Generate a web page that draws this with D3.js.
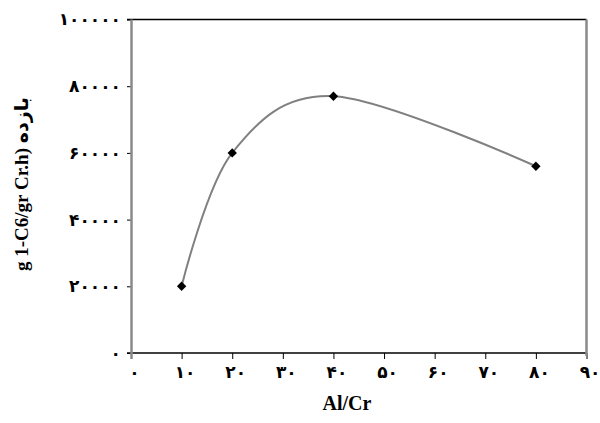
<!DOCTYPE html>
<html>
<head>
<meta charset="utf-8">
<script src="https://cdn.jsdelivr.net/npm/d3@7"></script>
<style>
  html, body { margin: 0; padding: 0; background: #fff; }
  svg { display: block; }
  .tick text { font-family: "DejaVu Sans", serif; font-weight: bold; font-size: 17px; fill: #000; }
</style>
</head>
<body>
<svg id="chart" width="600" height="423"></svg>
<script>
// Données
const alCr   = [10, 20, 40, 80]
const yields = [20000, 60000, 77000, 56000]

// Graduations (chiffres persans)
const xTicks = [0, 10, 20, 30, 40, 50, 60, 70, 80, 90]
const yTicks = [0, 20000, 40000, 60000, 80000, 100000]
const faDigits = '۰۱۲۳۴۵۶۷۸۹'
const toFa = n => String(n).replace(/\d/g, d => faDigits[d])

const svg = d3.select('#chart')
const pLeft = 131, pRight = 586.5, pTop = 19.5, pBottom = 353

const x = d3.scaleLinear().domain([0, 90]).range([pLeft, pRight])
const y = d3.scaleLinear().domain([0, 100000]).range([pBottom, pTop])

// Axe X
const xAxis = svg.append('g').attr('transform', `translate(0,${pBottom})`)
  .call(d3.axisBottom(x).tickValues(xTicks).tickSize(6).tickPadding(7).tickFormat(toFa))
xAxis.select('.domain').remove()
xAxis.selectAll('.tick line').attr('stroke', '#000').attr('stroke-width', 1)
xAxis.selectAll('.tick text').attr('dx', 3)

// Axe Y
const yAxis = svg.append('g').attr('transform', `translate(${pLeft},0)`)
  .call(d3.axisLeft(y).tickValues(yTicks).tickSize(4).tickPadding(6).tickFormat(toFa))
yAxis.select('.domain').remove()
yAxis.selectAll('.tick line').attr('stroke', '#000').attr('stroke-width', 1)

// Cadre
svg.append('line').attr('x1', 127).attr('x2', pRight).attr('y1', pTop).attr('y2', pTop)
  .attr('stroke', '#000').attr('stroke-width', 1.5)
svg.append('line').attr('x1', 127).attr('x2', pRight).attr('y1', pBottom).attr('y2', pBottom)
  .attr('stroke', '#000').attr('stroke-width', 1.5)
svg.append('line').attr('x1', pLeft + 0.5).attr('x2', pLeft + 0.5).attr('y1', pTop).attr('y2', pBottom + 6)
  .attr('stroke', '#8a8a8a').attr('stroke-width', 2.5)
svg.append('line').attr('x1', pRight).attr('x2', pRight).attr('y1', pTop).attr('y2', pBottom + 3)
  .attr('stroke', '#8a8a8a').attr('stroke-width', 2.5)

// Courbe lissée
const pts = alCr.map((v, i) => [v, yields[i]])
const line = d3.line().x(d => x(d[0])).y(d => y(d[1])).curve(d3.curveCardinal.tension(0))
svg.append('path').datum(pts).attr('d', line)
  .attr('fill', 'none').attr('stroke', '#808080').attr('stroke-width', 2)

// Marqueurs losange (carré tourné)
svg.selectAll('.pt').data(pts).join('path')
  .attr('class', 'pt')
  .attr('transform', d => `translate(${x(d[0])},${y(d[1])}) rotate(45)`)
  .attr('d', d3.symbol(d3.symbolSquare, 44))
  .attr('fill', '#000')

// Titres
svg.append('text').attr('x', 347).attr('y', 410).attr('text-anchor', 'middle')
  .attr('font-family', 'Liberation Serif, serif').attr('font-weight', 'bold').attr('font-size', 20)
  .text('Al/Cr')

svg.append('text').attr('transform', 'translate(28,184) rotate(-90)').attr('text-anchor', 'middle')
  .attr('font-family', 'Liberation Serif, DejaVu Sans, serif').attr('font-weight', 'bold').attr('font-size', 19)
  .attr('direction', 'ltr')
  .text('g 1-C6/gr Cr.h) بازده')
</script>
</body>
</html>
